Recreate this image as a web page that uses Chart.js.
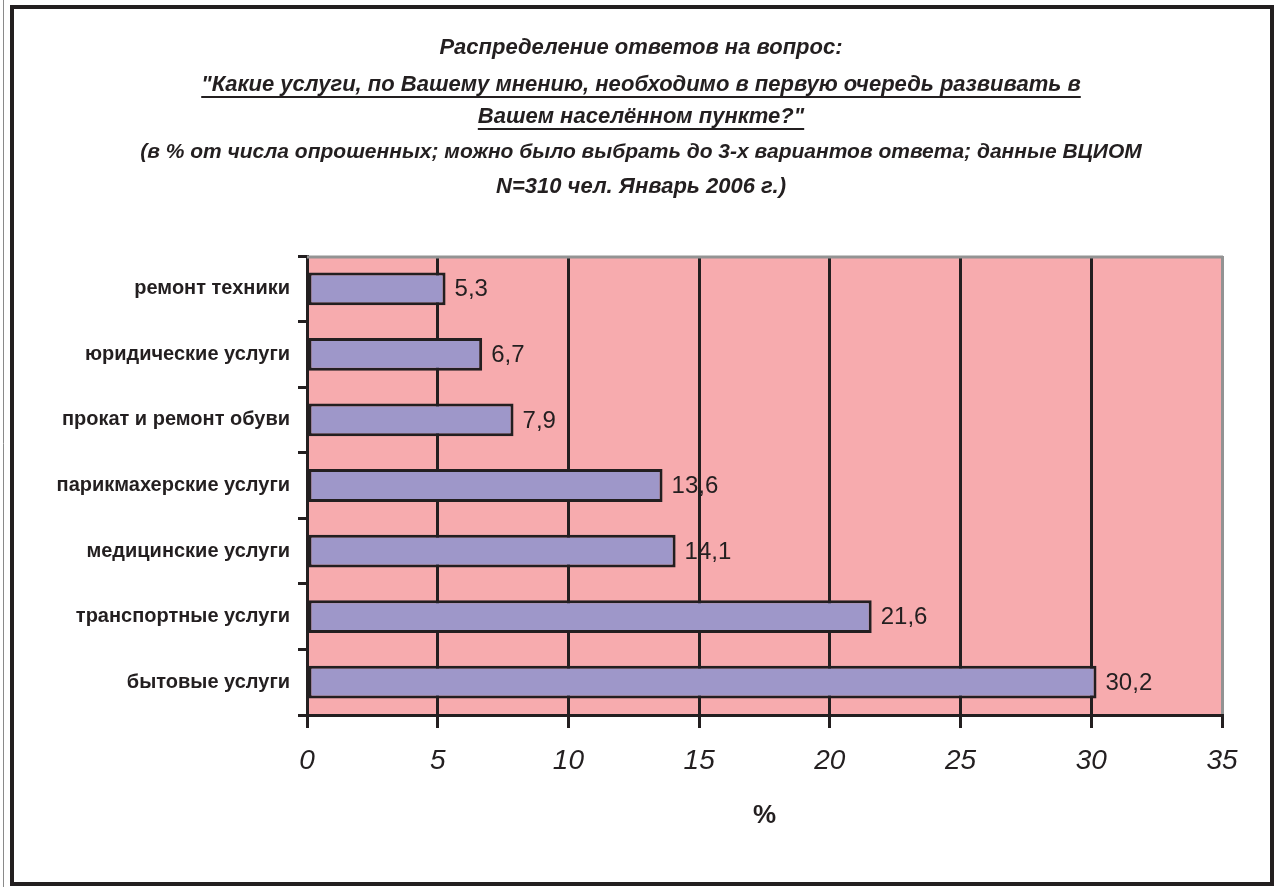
<!DOCTYPE html>
<html>
<head>
<meta charset="utf-8">
<script src="https://cdn.jsdelivr.net/npm/chart.js@4.4.1/dist/chart.umd.min.js"></script>
<style>
    html, body { margin: 0; padding: 0; background: #fff; overflow: hidden; }
    #wrap { width: 1282px; height: 887px; }
</style>
</head>
<body>
<div id="wrap"><canvas id="myChart" width="1282" height="887"></canvas></div>
<script>
// data, top bar first
const categories = [
    'ремонт техники',
    'юридические услуги',
    'прокат и ремонт обуви',
    'парикмахерские услуги',
    'медицинские услуги',
    'транспортные услуги',
    'бытовые услуги'
];
const shares = [5.3, 6.7, 7.9, 13.6, 14.1, 21.6, 30.2];
const xTickValues = [0, 5, 10, 15, 20, 25, 30, 35];
const titleLines = [
    'Распределение ответов на вопрос:',
    '"Какие услуги, по Вашему мнению, необходимо в первую очередь развивать в',
    'Вашем населённом пункте?"',
    '(в % от числа опрошенных; можно было выбрать до 3-х вариантов ответа; данные ВЦИОМ',
    'N=310 чел. Январь 2006 г.)'
];
const underlined = [false, true, true, false, false];
const axisTitle = '%';

const ink = '#231F20';
const fmt = v => String(v).replace('.', ',');

// white page, outer frame and the pink plot background
const backdrop = {
    id: 'backdrop',
    beforeDraw(chart) {
        const c = chart.ctx, a = chart.chartArea;
        c.save();
        c.fillStyle = '#fff';
        c.fillRect(0, 0, chart.width, chart.height);
        c.strokeStyle = '#8a8a8a';
        c.lineWidth = 1;
        c.beginPath(); c.moveTo(3.5, 0); c.lineTo(3.5, chart.height); c.stroke();
        c.strokeStyle = ink;
        c.lineWidth = 4;
        c.strokeRect(12, 7, 1260, 877);
        c.fillStyle = '#F7ABAE';
        c.fillRect(a.left, a.top, a.right - a.left, a.bottom - a.top);
        c.restore();
    },
    beforeDatasetsDraw(chart) {
        const c = chart.ctx, a = chart.chartArea;
        c.save();
        c.strokeStyle = '#939393';
        c.lineWidth = 3;
        c.beginPath(); c.moveTo(a.left, a.top + 1); c.lineTo(a.right + 1, a.top + 1); c.stroke();
        c.restore();
    }
};

// value labels right of the bars
const barLabels = {
    id: 'barLabels',
    afterDatasetsDraw(chart) {
        const c = chart.ctx;
        const meta = chart.getDatasetMeta(0);
        c.save();
        c.fillStyle = ink;
        c.font = '24px "Liberation Sans"';
        c.textAlign = 'left';
        c.textBaseline = 'middle';
        meta.data.forEach(function (bar, i) {
            c.fillText(fmt(shares[i]), bar.x + 9, bar.y + 1);
        });
        c.restore();
    }
};

// multi-line heading, two lines underlined
const heading = {
    id: 'heading',
    afterDraw(chart) {
        const c = chart.ctx;
        const ys = [48, 85, 117, 152, 187];
        c.save();
        c.fillStyle = ink;
        c.strokeStyle = ink;
        c.textAlign = 'center';
        c.textBaseline = 'middle';
        titleLines.forEach(function (line, i) {
            c.font = 'italic bold ' + (i === 3 ? 21 : 22) + 'px "Liberation Sans"';
            c.fillText(line, 641, ys[i]);
            if (underlined[i]) {
                const w = c.measureText(line).width;
                c.lineWidth = 2;
                c.beginPath();
                c.moveTo(641 - w / 2, ys[i] + 12);
                c.lineTo(641 + w / 2, ys[i] + 12);
                c.stroke();
            }
        });
        c.restore();
    }
};

new Chart(document.getElementById('myChart'), {
    type: 'bar',
    data: {
        labels: categories,
        datasets: [{
            data: shares,
            backgroundColor: '#9E97C9',
            borderColor: ink,
            borderWidth: 3,
            borderSkipped: false,
            categoryPercentage: 1,
            barPercentage: 0.5
        }]
    },
    options: {
        indexAxis: 'y',
        responsive: false,
        animation: false,
        layout: { padding: { top: 256, left: 14, right: 60, bottom: 40 } },
        plugins: {
            legend: { display: false },
            title: { display: false },
            tooltip: { enabled: false }
        },
        scales: {
            x: {
                min: 0,
                max: 35,
                afterBuildTicks: function (scale) {
                    scale.ticks = xTickValues.map(v => ({ value: v }));
                },
                afterFit: function (scale) { scale.height = 132; },
                border: { display: true, color: ink, width: 3 },
                grid: {
                    color: ctx => ctx.index === xTickValues.length - 1 ? '#939393' : ink,
                    tickColor: ink,
                    lineWidth: 3,
                    tickLength: 13
                },
                ticks: {
                    color: ink,
                    padding: 16,
                    maxRotation: 0,
                    font: { family: '"Liberation Sans"', style: 'italic', size: 28 }
                },
                title: {
                    display: true,
                    text: axisTitle,
                    color: ink,
                    padding: { top: 0, bottom: 16 },
                    font: { family: '"Liberation Sans"', weight: 'bold', size: 26 }
                }
            },
            y: {
                afterFit: function (scale) { scale.width = 293; },
                border: { display: true, color: ink, width: 3 },
                grid: {
                    offset: true,
                    drawOnChartArea: false,
                    color: ink,
                    lineWidth: 3,
                    tickLength: 9
                },
                ticks: {
                    color: ink,
                    padding: 8,
                    font: { family: '"Liberation Sans"', weight: 'bold', size: 20 }
                }
            }
        }
    },
    plugins: [backdrop, barLabels, heading]
});
</script>
</body>
</html>
